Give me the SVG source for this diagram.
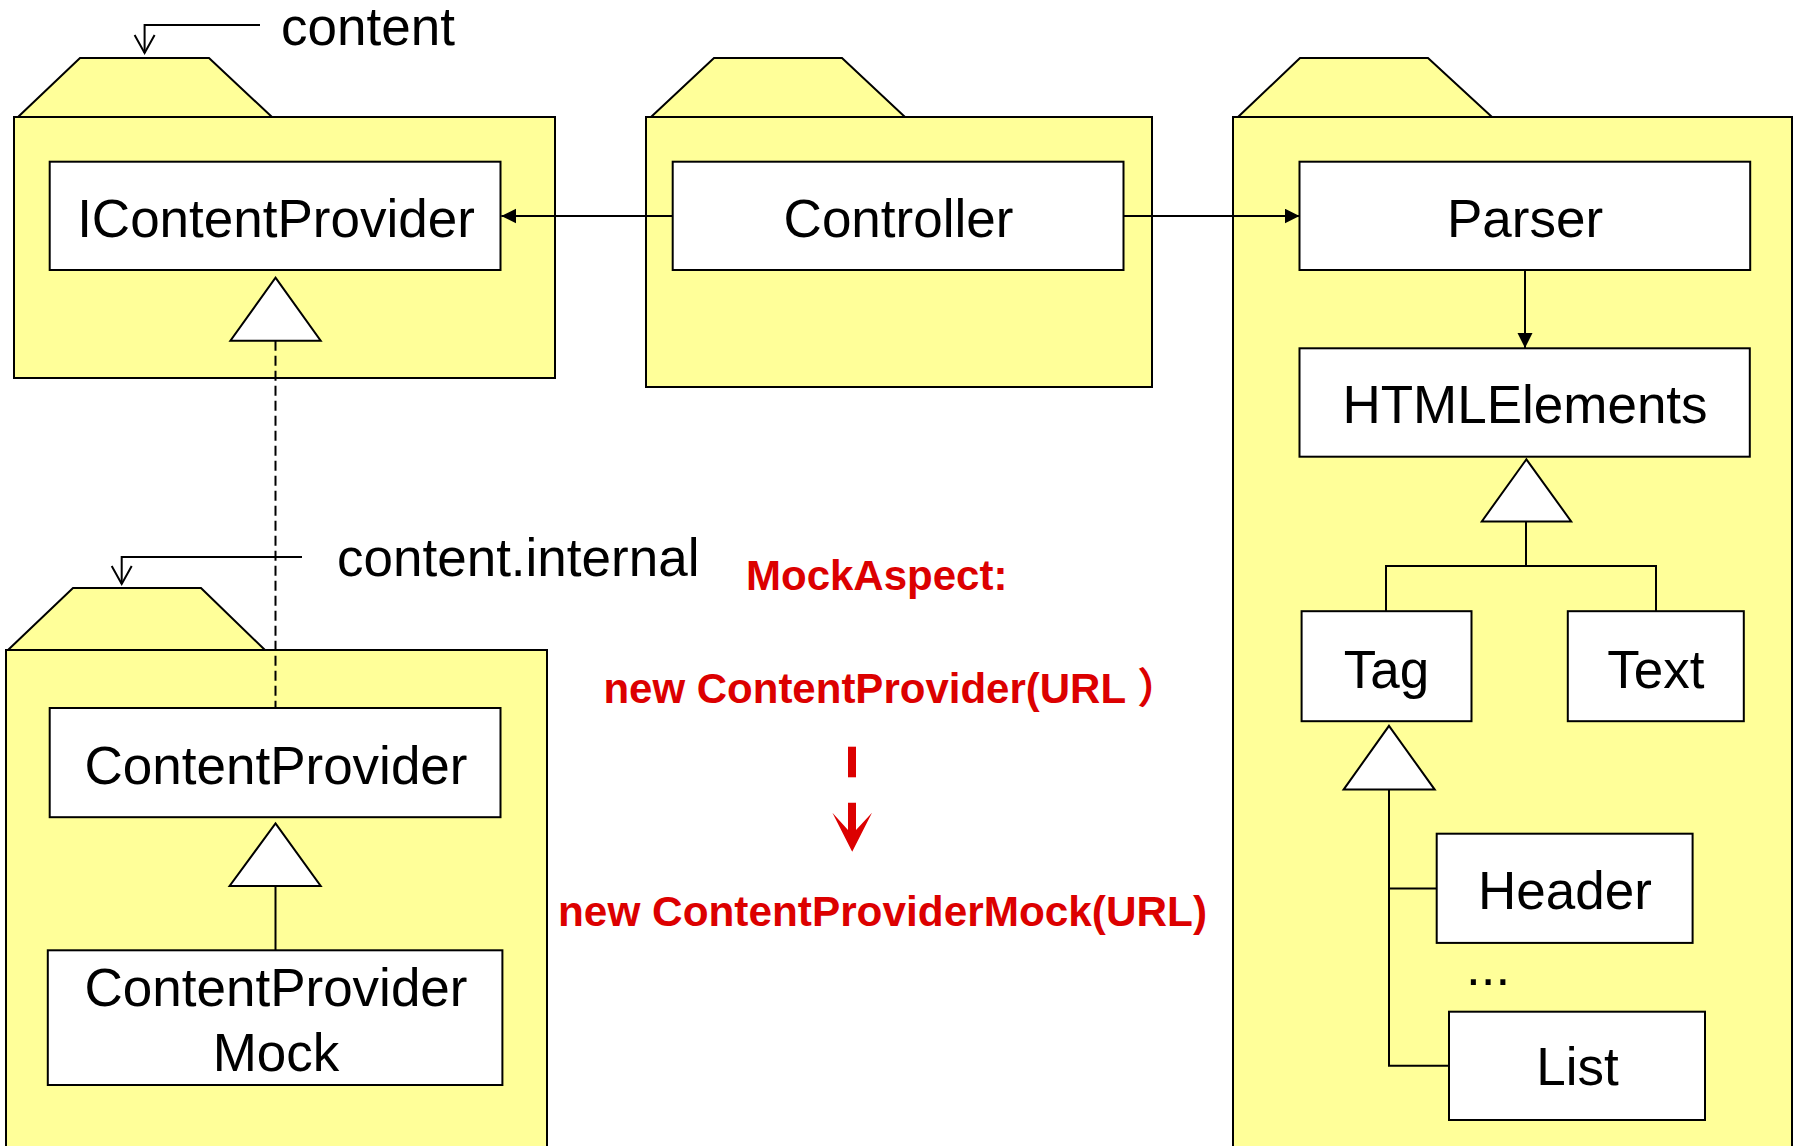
<svg xmlns="http://www.w3.org/2000/svg" width="1795" height="1146" viewBox="0 0 1795 1146">
<style>
.pkg{fill:#FFFF99;stroke:#000;stroke-width:2}
.box{fill:#fff;stroke:#000;stroke-width:2}
.tri{fill:#fff;stroke:#000;stroke-width:2}
.cn{fill:none;stroke:#000;stroke-width:2}
.t{font-family:"Liberation Sans",Arial,sans-serif;font-size:53px;fill:#000;text-anchor:middle}
.lbl{font-family:"Liberation Sans",Arial,sans-serif;font-size:53px;fill:#000}
.red{font-family:"Liberation Sans",Arial,sans-serif;font-size:42px;font-weight:bold;fill:#DC0000}
</style>
<defs>
<marker id="fa" markerUnits="userSpaceOnUse" markerWidth="16" markerHeight="16" refX="15" refY="7.5" orient="auto">
<path d="M0,0 L15,7.5 L0,15 z" fill="#000"/>
</marker>
<marker id="va" markerUnits="userSpaceOnUse" markerWidth="22" markerHeight="24" refX="19" refY="11" orient="auto">
<path d="M1,1 L19,11 L1,21" fill="none" stroke="#000" stroke-width="2"/>
</marker>
</defs>

<g id="pkg-content">
<rect class="pkg" x="14" y="117" width="541" height="261"/>
<polygon class="pkg" points="18,117 80,58 209,58 272,117"/>
</g>
<g id="pkg-controller">
<rect class="pkg" x="646" y="117" width="506" height="270"/>
<polygon class="pkg" points="651,117 714,58 842,58 905,117"/>
</g>
<g id="pkg-parser">
<rect class="pkg" x="1233" y="117" width="559" height="1040"/>
<polygon class="pkg" points="1238,117 1300,58 1428,58 1492,117"/>
</g>
<g id="pkg-internal">
<rect class="pkg" x="6" y="650" width="541" height="510"/>
<polygon class="pkg" points="8,650 73,588 201,588 265,650"/>
</g>

<g id="label-content">
<path class="cn" d="M260,25 H144.6 V53" marker-end="url(#va)"/>
<text class="lbl" x="281" y="45">content</text>
</g>
<g id="label-content-internal">
<path class="cn" d="M302,557 H121.7 V584" marker-end="url(#va)"/>
<text class="lbl" x="337" y="576">content.internal</text>
</g>

<g id="connectors">
<line class="cn" x1="672.7" y1="216" x2="501.3" y2="216" marker-end="url(#fa)"/>
<line class="cn" x1="1123.5" y1="216" x2="1299.5" y2="216" marker-end="url(#fa)"/>
<line class="cn" x1="1525" y1="270" x2="1525" y2="348" marker-end="url(#fa)"/>
<line class="cn" x1="275.5" y1="340.7" x2="275.5" y2="708" stroke-dasharray="10,5"/>
<polygon class="tri" points="275.5,277.7 320.7,340.7 230.4,340.7"/>
<line class="cn" x1="275.5" y1="886" x2="275.5" y2="950"/>
<polygon class="tri" points="275.5,823.4 320.7,886 229.6,886"/>
<path class="cn" d="M1526,521 V566 M1386,611 V566 H1656 V611"/>
<polygon class="tri" points="1526.4,459.3 1571.2,521.4 1481.8,521.4"/>
<path class="cn" d="M1389,789.6 V1065.7 H1449 M1389,888.5 H1436.7"/>
<polygon class="tri" points="1389,725.8 1434.7,789.6 1343.6,789.6"/>
</g>

<g id="node-icontentprovider">
<rect class="box" x="49.7" y="161.7" width="450.8" height="108.3"/>
<text class="t" x="276" y="236.7">IContentProvider</text>
</g>
<g id="node-controller">
<rect class="box" x="672.7" y="161.7" width="450.8" height="108.3"/>
<text class="t" x="898.5" y="236.7">Controller</text>
</g>
<g id="node-parser">
<rect class="box" x="1299.5" y="161.7" width="450.7" height="108.3"/>
<text class="t" x="1525" y="236.7">Parser</text>
</g>
<g id="node-htmlelements">
<rect class="box" x="1299.5" y="348.3" width="450.3" height="108.4"/>
<text class="t" x="1525" y="423.3">HTMLElements</text>
</g>
<g id="node-tag">
<rect class="box" x="1301.6" y="611.2" width="169.9" height="110"/>
<text class="t" x="1386.5" y="687.5">Tag</text>
</g>
<g id="node-text">
<rect class="box" x="1567.8" y="611.2" width="176" height="110"/>
<text class="t" x="1655.8" y="687.5">Text</text>
</g>
<g id="node-header">
<rect class="box" x="1436.7" y="833.7" width="255.9" height="109.2"/>
<text class="t" x="1565" y="908.7">Header</text>
</g>
<g id="node-ellipsis">
<text class="lbl" x="1466" y="985">...</text>
</g>
<g id="node-list">
<rect class="box" x="1449" y="1011.7" width="256" height="108.3"/>
<text class="t" x="1577.5" y="1085">List</text>
</g>
<g id="node-contentprovider">
<rect class="box" x="49.7" y="708" width="450.8" height="109.2"/>
<text class="t" x="276" y="783.5">ContentProvider</text>
</g>
<g id="node-contentprovidermock">
<rect class="box" x="47.8" y="950.3" width="454.6" height="134.7"/>
<text class="t" x="276" y="1006">ContentProvider</text>
<text class="t" x="276" y="1070.6">Mock</text>
</g>

<g id="mock-aspect">
<text class="red" x="746" y="590">MockAspect:</text>
<text class="red" x="603.4" y="702.7">new ContentProvider(URL<tspan x="1137" style="font-family:'Noto Sans CJK SC',sans-serif;font-weight:bold">）</tspan></text>
<rect x="848" y="746.7" width="8" height="30.6" fill="#DC0000"/>
<polygon fill="#DC0000" points="848,802.7 848,830 832.4,812.7 852.2,851.7 872,812.7 856,830 856,802.7"/>
<text class="red" x="558" y="926" textLength="649" lengthAdjust="spacingAndGlyphs">new ContentProviderMock(URL)</text>
</g>
</svg>
